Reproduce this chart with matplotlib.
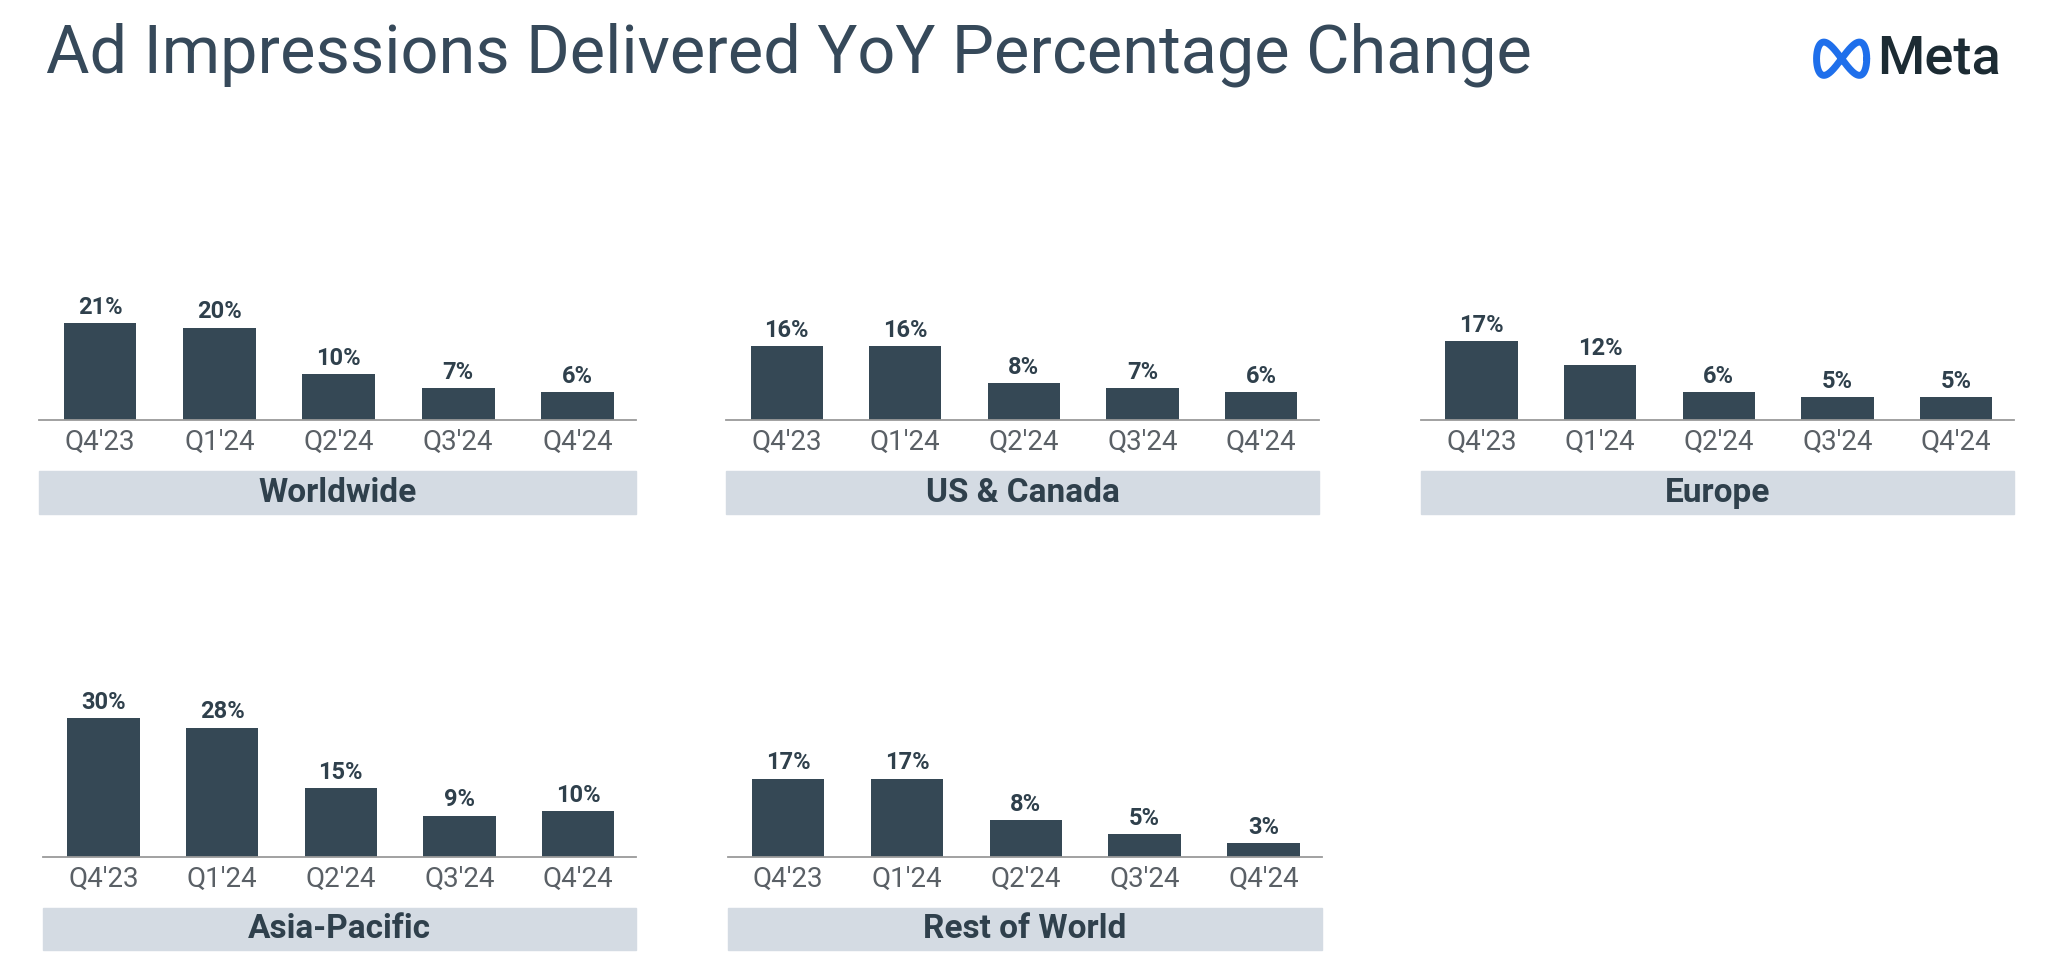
import numpy as np
import matplotlib
matplotlib.use("Agg")
import matplotlib.pyplot as plt
from matplotlib.patches import Rectangle

plt.rcParams['font.family'] = ['Roboto', 'DejaVu Sans']

# data
quarters = ["Q4'23", "Q1'24", "Q2'24", "Q3'24", "Q4'24"]
worldwide = [21, 20, 10, 7, 6]
us_canada = [16, 16, 8, 7, 6]
europe = [17, 12, 6, 5, 5]
asia_pacific = [30, 28, 15, 9, 10]
rest_of_world = [17, 17, 8, 5, 3]
region_names = ["Worldwide", "US & Canada", "Europe", "Asia-Pacific", "Rest of World"]
region_values = [worldwide, us_canada, europe, asia_pacific, rest_of_world]

BAR_COLOR = "#354855"
BANNER_COLOR = "#D4DBE3"
TEXT_DARK = "#2F404C"
TICK_GREY = "#5A6066"
TITLE_COLOR = "#36495A"

W, H = 1568.0, 748.0  # layout measured on a scaled copy of the slide
fig = plt.figure(figsize=(20.48, 9.76), dpi=100)

fig.text(35 / W, 1 - 42 / H, "Ad Impressions Delivered YoY Percentage Change",
         fontsize=48, color=TITLE_COLOR, ha="left", va="center")

# Meta logo: infinity loop + wordmark
logo_ax = fig.add_axes([1386 / W, 1 - 62 / H, 48 / W, 34 / H])
t = np.linspace(0, 2 * np.pi, 400)
logo_ax.plot(np.cos(t), np.sin(2 * t) * 0.5 * 1.5, color="#1F6FEB", lw=5,
             solid_capstyle="round")
logo_ax.set_xlim(-1.25, 1.25)
logo_ax.set_ylim(-1.0, 1.0)
logo_ax.axis("off")
fig.text(1437 / W, 1 - 45 / H, "Meta", fontsize=39, color="#1C2B33",
         fontweight="medium", ha="left", va="center")

# panel layout: (axis left, axis right, baseline y, banner top, banner bottom) in slide px
panels = [
    (30, 487, 322, 361, 394),
    (556, 1010, 322, 361, 394),
    (1088, 1542, 322, 361, 394),
    (33, 487, 657, 696, 728),
    (557, 1012, 657, 696, 728),
]
px_per_pct = 3.55
ymax = 40

for name, vals, (x0, x1, base, btop, bbot) in zip(region_names, region_values, panels):
    ax = fig.add_axes([x0 / W, 1 - base / H, (x1 - x0) / W, ymax * px_per_pct / H])
    x = np.arange(len(quarters))
    ax.bar(x, vals, width=0.61, color=BAR_COLOR)
    ax.set_xlim(-0.51, 4.49)
    ax.set_ylim(0, ymax)
    for xi, v in zip(x, vals):
        ax.annotate(f"{v}%", (xi, v), xytext=(0, 3), textcoords="offset points",
                    ha="center", va="bottom", fontsize=17, fontweight="bold",
                    color=TEXT_DARK)
    ax.set_xticks(x)
    ax.set_xticklabels(quarters, fontsize=20, color=TICK_GREY)
    ax.tick_params(axis="x", length=0, pad=6)
    ax.set_yticks([])
    for s in ["top", "left", "right"]:
        ax.spines[s].set_visible(False)
    ax.spines["bottom"].set_color("#9A9A9A")
    ax.spines["bottom"].set_linewidth(1.3)
    ax.patch.set_alpha(0)

    fig.patches.append(Rectangle((x0 / W, 1 - bbot / H), (x1 - x0) / W, (bbot - btop) / H,
                                 transform=fig.transFigure, color=BANNER_COLOR, zorder=0))
    fig.text((x0 + x1) / 2 / W, 1 - (btop + bbot) / 2 / H, name, fontsize=24,
             fontweight="bold", color=TEXT_DARK, ha="center", va="center")

fig.savefig("out.png", dpi=100, facecolor="white")
